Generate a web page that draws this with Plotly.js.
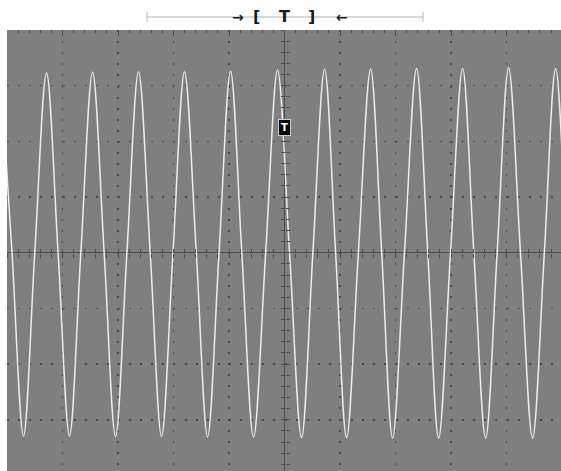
<!DOCTYPE html>
<html>
<head>
<meta charset="utf-8">
<script src="https://cdn.plot.ly/plotly-3.0.1.min.js"></script>
<style>html,body{margin:0;padding:0;background:#fff;}#chart{width:561px;height:471px;}</style>
</head>
<body>
<div id="chart"></div>
<script>
// Time in horizontal divisions, voltage in vertical divisions
var timeDiv = [-5.117,-4.91,-4.703,-4.50,-4.288,-4.08,-3.874,-3.67,-3.459,-3.25,-3.045,-2.84,-2.631,-2.42,-2.216,-2.01,-1.802,-1.59,-1.387,-1.18,-0.973,-0.77,-0.559,-0.34,-0.126,0.09,0.306,0.51,0.721,0.92,1.117,1.33,1.550,1.75,1.946,2.16,2.378,2.58,2.775,2.99,3.207,3.41,3.622,3.83,4.036,4.25,4.468,4.68,4.883,5.09,5.297];
var voltDiv = [3.23,0,-3.29,0,3.23,0,-3.29,0,3.24,0,-3.30,0,3.25,0,-3.30,0,3.25,0,-3.31,0,3.26,0,-3.31,0,3.28,0,-3.32,0,3.30,0,-3.32,0,3.30,0,-3.33,0,3.31,0,-3.33,0,3.31,0,-3.33,0,3.32,0,-3.33,0,3.31,0,-3.33];

var xRange = [-5, 4.98];
var yRange = [-3.92, 4];
var dark = '#4c4c4c';
var px0 = (0 - xRange[0]) / (xRange[1] - xRange[0]);
var py0 = (0 - yRange[0]) / (yRange[1] - yRange[0]);

var traces = [
  {x: timeDiv, y: voltDiv, type: 'scatter', mode: 'lines',
   line: {color: '#ededed', width: 1.5, shape: 'spline', smoothing: 1},
   hoverinfo: 'skip', showlegend: false},
  {x: [], y: [], xaxis: 'x2', yaxis: 'y', showlegend: false},
  {x: [], y: [], xaxis: 'x3', yaxis: 'y', showlegend: false},
  {x: [], y: [], xaxis: 'x', yaxis: 'y2', showlegend: false},
  {x: [], y: [], xaxis: 'x', yaxis: 'y3', showlegend: false},
  {x: [], y: [], xaxis: 'x4', yaxis: 'y', showlegend: false}
];

function tickAxis(extra) {
  var a = {range: xRange, showgrid: false, zeroline: false, showline: false,
    showticklabels: false, ticklen: 4, tickwidth: 1, tickcolor: dark,
    dtick: 0.2, tick0: 0, fixedrange: true};
  for (var k in extra) a[k] = extra[k];
  return a;
}

function label(x, y, text, size) {
  return {xref: 'paper', yref: 'paper', x: x, y: y, xanchor: 'center', yanchor: 'middle',
    text: text, showarrow: false,
    font: {family: 'DejaVu Sans', size: size, color: '#1a1a1a', weight: 'bold'}};
}

var layout = {
  width: 561, height: 471,
  margin: {l: 7, r: 0, t: 30, b: 0, pad: 0},
  paper_bgcolor: '#ffffff',
  plot_bgcolor: '#7f7f7f',
  showlegend: false,
  xaxis: {range: xRange, dtick: 1, tick0: 0, showticklabels: false, ticks: '',
    showgrid: true, gridcolor: dark, gridwidth: 1.5, griddash: '2px,9.1px',
    zeroline: true, zerolinecolor: dark, zerolinewidth: 1.5, showline: false, fixedrange: true},
  yaxis: {range: yRange, dtick: 1, tick0: 0, showticklabels: false, ticks: '',
    showgrid: true, gridcolor: dark, gridwidth: 1.5, griddash: '2px,9.1px',
    zeroline: true, zerolinecolor: dark, zerolinewidth: 1.5, showline: false, fixedrange: true},
  xaxis2: tickAxis({overlaying: 'x', anchor: 'free', position: py0, ticks: 'inside'}),
  xaxis3: tickAxis({overlaying: 'x', anchor: 'free', position: py0, ticks: 'outside'}),
  yaxis2: tickAxis({range: yRange, overlaying: 'y', anchor: 'free', position: px0, ticks: 'inside'}),
  yaxis3: tickAxis({range: yRange, overlaying: 'y', anchor: 'free', position: px0, ticks: 'outside'}),
  xaxis4: tickAxis({overlaying: 'x', anchor: 'y', side: 'top', ticks: 'inside', dtick: 1, ticklen: 6,
    minor: {dtick: 0.2, tick0: 0, ticks: 'inside', ticklen: 3, tickcolor: dark, tickwidth: 1}}),
  shapes: [
    {type: 'line', xref: 'paper', yref: 'paper', x0: 0.2527, x1: 0.7509, y0: 1.0295, y1: 1.0295,
     line: {color: '#b4b4b4', width: 1}},
    {type: 'line', xref: 'paper', yref: 'paper', x0: 0.2527, x1: 0.2527, y0: 1.018, y1: 1.041,
     line: {color: '#b4b4b4', width: 1}},
    {type: 'line', xref: 'paper', yref: 'paper', x0: 0.7509, x1: 0.7509, y0: 1.018, y1: 1.041,
     line: {color: '#b4b4b4', width: 1}}
  ],
  annotations: [
    label(0.417, 1.0295, '→', 14),
    label(0.451, 1.0295, '[', 16),
    label(0.500, 1.0295, 'T', 16),
    label(0.5505, 1.0295, ']', 16),
    label(0.6047, 1.0295, '←', 14),
    {xref: 'paper', yref: 'paper', x: 0.5, y: 0.780, xanchor: 'center', yanchor: 'middle',
     text: 'T', showarrow: false,
     bgcolor: '#0a0a0a', bordercolor: '#cfcfcf', borderwidth: 1, borderpad: 2,
     font: {family: 'DejaVu Sans', size: 10, color: '#ffffff', weight: 'bold'}}
  ]
};

Plotly.newPlot('chart', traces, layout, {displayModeBar: false, staticPlot: true});
</script>
</body>
</html>
